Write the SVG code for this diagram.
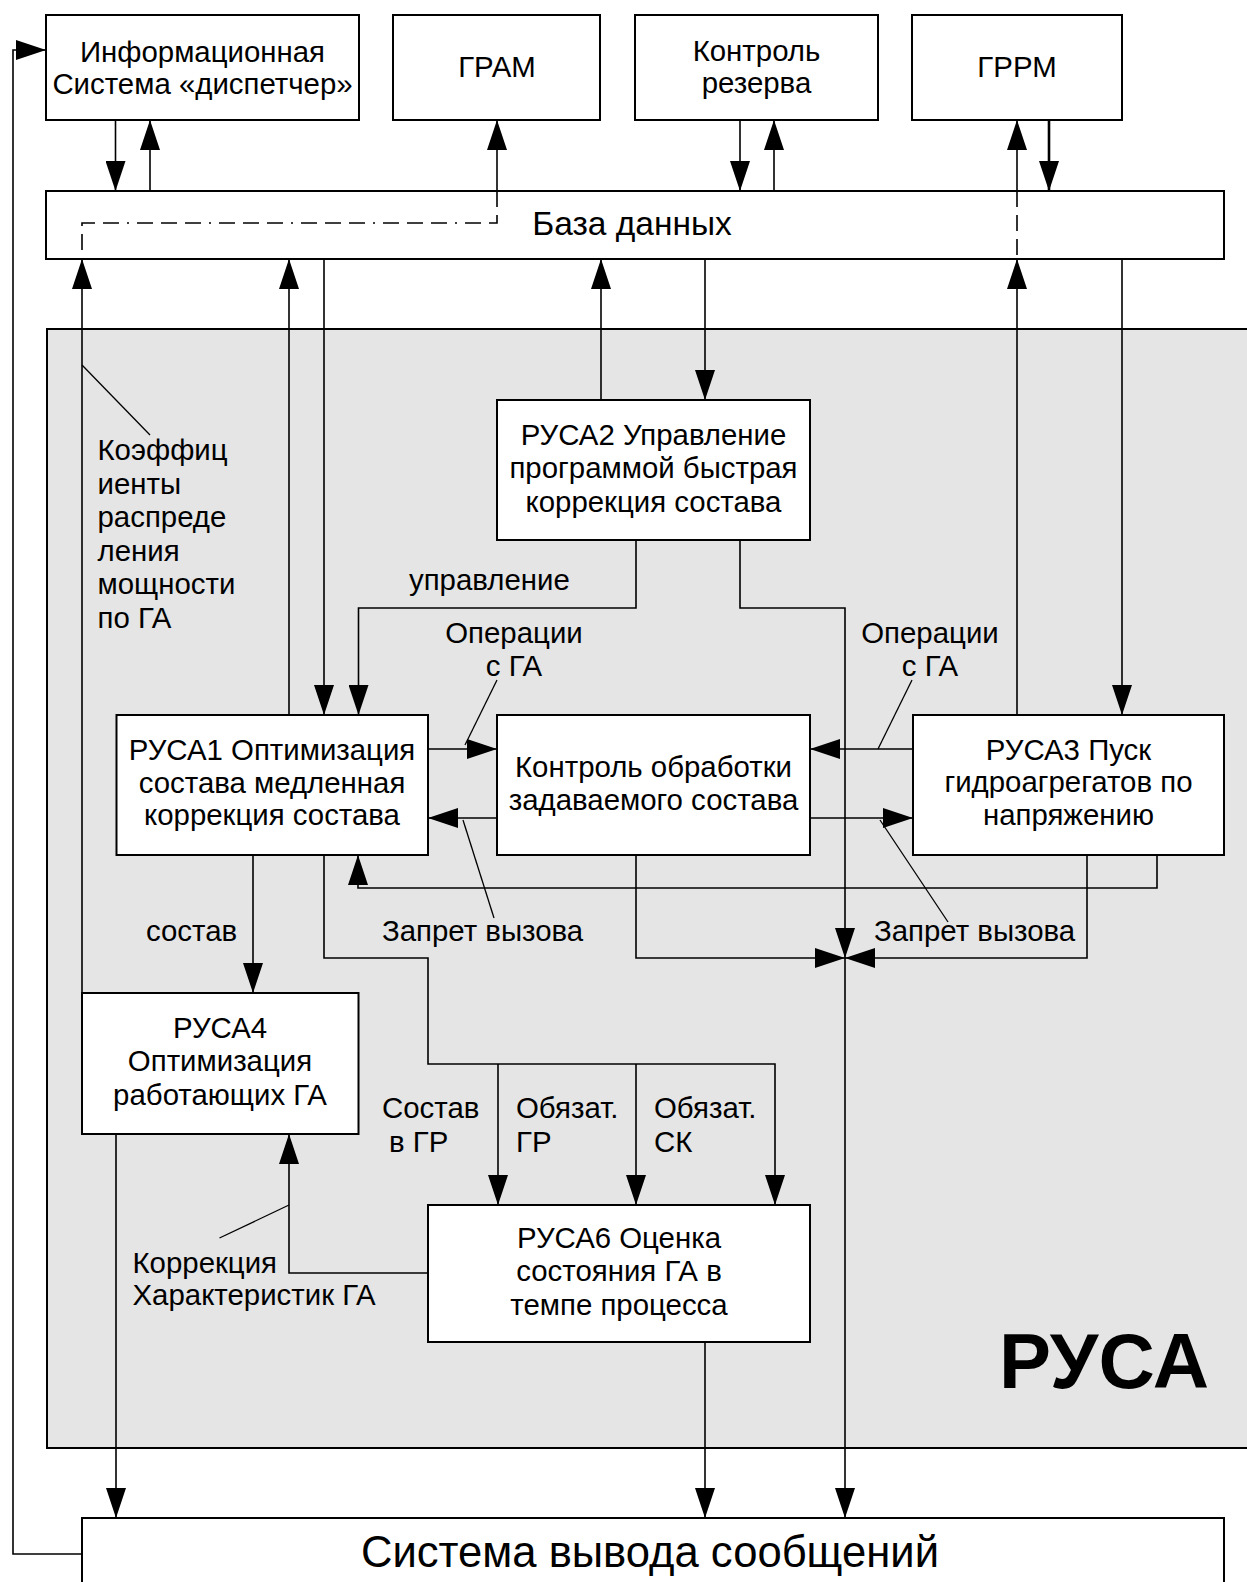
<svg xmlns="http://www.w3.org/2000/svg" width="1247" height="1582" viewBox="0 0 1247 1582">
<style>
.box{fill:#fff;stroke:#000;stroke-width:2}
.t{font-family:"Liberation Sans",Arial,sans-serif;font-size:29.4px;fill:#000}
.c{text-anchor:middle}
.ln{fill:none;stroke:#000;stroke-width:1.6}
.ld{fill:none;stroke:#000;stroke-width:1.3}
.dd{fill:none;stroke:#000;stroke-width:1.6;stroke-dasharray:16 8 16 8 16 8 2 8}
</style>
<defs>
<marker id="ah" viewBox="0 0 30 20" refX="30" refY="10" markerWidth="30" markerHeight="20" markerUnits="userSpaceOnUse" orient="auto"><path d="M0,0 L30,10 L0,20 z" fill="#000"/></marker>
</defs>
<rect width="1247" height="1582" fill="#fff"/>

<g id="rusa-region">
<rect x="47" y="329" width="1215" height="1119" fill="#e5e5e5" stroke="#000" stroke-width="2"/>
<text class="t c" x="1104" y="1388" style="font-size:78px;font-weight:bold">РУСА</text>
</g>

<g id="info-system">
<rect class="box" x="46" y="15" width="313" height="105"/>
<text class="t c" x="202.5" y="62">Информационная</text>
<text class="t c" x="202.5" y="94">Система «диспетчер»</text>
</g>
<g id="gram">
<rect class="box" x="393" y="15" width="207" height="105"/>
<text class="t c" x="497" y="77">ГРАМ</text>
</g>
<g id="reserve-control">
<rect class="box" x="635" y="15" width="243" height="105"/>
<text class="t c" x="756.5" y="61">Контроль</text>
<text class="t c" x="756.5" y="93">резерва</text>
</g>
<g id="grrm">
<rect class="box" x="912" y="15" width="210" height="105"/>
<text class="t c" x="1017" y="77">ГРРМ</text>
</g>
<g id="database">
<rect class="box" x="46" y="191" width="1178" height="68"/>
<text class="t c" x="632" y="235" style="font-size:33.5px">База данных</text>
</g>
<g id="rusa2">
<rect class="box" x="497" y="400" width="313" height="140"/>
<text class="t c" x="653.5" y="445">РУСА2 Управление</text>
<text class="t c" x="653.5" y="478">программой быстрая</text>
<text class="t c" x="653.5" y="512">коррекция состава</text>
</g>
<g id="rusa1">
<rect class="box" x="116.5" y="715" width="311.5" height="140"/>
<text class="t c" x="272" y="760">РУСА1 Оптимизация</text>
<text class="t c" x="272" y="793">состава медленная</text>
<text class="t c" x="272" y="825">коррекция состава</text>
</g>
<g id="composition-control">
<rect class="box" x="497" y="715" width="313" height="140"/>
<text class="t c" x="653.5" y="777">Контроль обработки</text>
<text class="t c" x="653.5" y="810">задаваемого состава</text>
</g>
<g id="rusa3">
<rect class="box" x="913" y="715" width="311" height="140"/>
<text class="t c" x="1068.5" y="760">РУСА3 Пуск</text>
<text class="t c" x="1068.5" y="792">гидроагрегатов по</text>
<text class="t c" x="1068.5" y="825">напряжению</text>
</g>
<g id="rusa4">
<rect class="box" x="82" y="993" width="276.5" height="141"/>
<text class="t c" x="220" y="1038">РУСА4</text>
<text class="t c" x="220" y="1071">Оптимизация</text>
<text class="t c" x="220" y="1105">работающих ГА</text>
</g>
<g id="rusa6">
<rect class="box" x="428" y="1205" width="382" height="137"/>
<text class="t c" x="619" y="1248">РУСА6 Оценка</text>
<text class="t c" x="619" y="1281">состояния ГА в</text>
<text class="t c" x="619" y="1315">темпе процесса</text>
</g>
<g id="message-output">
<rect class="box" x="82" y="1518" width="1142" height="80"/>
<text class="t c" x="650" y="1567" style="font-size:43.6px">Система вывода сообщений</text>
</g>

<g id="connectors">
<line class="ln" x1="115.5" y1="120" x2="115.5" y2="191" marker-end="url(#ah)"/>
<line class="ln" x1="150" y1="191" x2="150" y2="120" marker-end="url(#ah)"/>
<line class="ln" x1="497" y1="191" x2="497" y2="120" marker-end="url(#ah)"/>
<line class="ln" x1="740" y1="120" x2="740" y2="191" marker-end="url(#ah)"/>
<line class="ln" x1="774" y1="191" x2="774" y2="120" marker-end="url(#ah)"/>
<line class="ln" x1="1017" y1="191" x2="1017" y2="120" marker-end="url(#ah)"/>
<line class="ln" x1="1049" y1="120" x2="1049" y2="191" marker-end="url(#ah)" style="stroke-width:2.6"/>
<path class="dd" d="M497,191 V223 H82 V259"/>
<path class="dd" d="M1017,191 V259"/>
<line class="ln" x1="82" y1="993" x2="82" y2="259" marker-end="url(#ah)"/>
<line class="ld" x1="82" y1="365" x2="150" y2="435"/>
<line class="ln" x1="289" y1="715" x2="289" y2="259" marker-end="url(#ah)"/>
<line class="ln" x1="324" y1="259" x2="324" y2="715" marker-end="url(#ah)"/>
<line class="ln" x1="601" y1="400" x2="601" y2="259" marker-end="url(#ah)"/>
<line class="ln" x1="705" y1="259" x2="705" y2="400" marker-end="url(#ah)"/>
<line class="ln" x1="1017" y1="715" x2="1017" y2="259" marker-end="url(#ah)"/>
<line class="ln" x1="1122" y1="259" x2="1122" y2="715" marker-end="url(#ah)"/>
<path class="ln" d="M636,540 V608 H358.5 V715" marker-end="url(#ah)"/>
<path class="ln" d="M740,540 V608 H845 V958" marker-end="url(#ah)"/>
<line class="ln" x1="845" y1="958" x2="845" y2="1518" marker-end="url(#ah)"/>
<line class="ln" x1="428" y1="749" x2="497" y2="749" marker-end="url(#ah)"/>
<line class="ln" x1="497" y1="818" x2="428" y2="818" marker-end="url(#ah)"/>
<line class="ln" x1="913" y1="749" x2="810" y2="749" marker-end="url(#ah)"/>
<line class="ln" x1="810" y1="818" x2="913" y2="818" marker-end="url(#ah)"/>
<line class="ld" x1="497" y1="680" x2="465" y2="745"/>
<line class="ld" x1="912" y1="680" x2="878" y2="749"/>
<line class="ld" x1="494" y1="918" x2="463" y2="820"/>
<line class="ld" x1="948" y1="922" x2="880" y2="820"/>
<path class="ln" d="M1157,855 V888 H358 V855" marker-end="url(#ah)"/>
<path class="ln" d="M636,855 V958 H845" marker-end="url(#ah)"/>
<path class="ln" d="M1087,855 V958 H845" marker-end="url(#ah)"/>
<line class="ln" x1="253" y1="855" x2="253" y2="993" marker-end="url(#ah)"/>
<path class="ln" d="M324,855 V958 H428 V1064 H775 V1205" marker-end="url(#ah)"/>
<line class="ln" x1="498" y1="1064" x2="498" y2="1205" marker-end="url(#ah)"/>
<line class="ln" x1="636" y1="1064" x2="636" y2="1205" marker-end="url(#ah)"/>
<line class="ln" x1="116" y1="1134" x2="116" y2="1518" marker-end="url(#ah)"/>
<path class="ln" d="M428,1273 H289 V1134" marker-end="url(#ah)"/>
<line class="ld" x1="289" y1="1205" x2="219.5" y2="1238"/>
<line class="ln" x1="705" y1="1342" x2="705" y2="1518" marker-end="url(#ah)"/>
<path class="ln" d="M82,1554 H13 V50 H46" marker-end="url(#ah)"/>
</g>

<g id="labels">
<text class="t" x="97.5" y="460">Коэффиц</text>
<text class="t" x="97.5" y="493.5">иенты</text>
<text class="t" x="97.5" y="527">распреде</text>
<text class="t" x="97.5" y="560.5">ления</text>
<text class="t" x="97.5" y="594">мощности</text>
<text class="t" x="97.5" y="627.5">по ГА</text>
<text class="t" x="409" y="590">управление</text>
<text class="t c" x="514" y="643">Операции</text>
<text class="t c" x="514" y="676">с ГА</text>
<text class="t c" x="930" y="643">Операции</text>
<text class="t c" x="930" y="676">с ГА</text>
<text class="t" x="146" y="941">состав</text>
<text class="t" x="382" y="941">Запрет вызова</text>
<text class="t" x="874" y="941">Запрет вызова</text>
<text class="t" x="382" y="1118">Состав</text>
<text class="t" x="389" y="1152">в ГР</text>
<text class="t" x="516" y="1118">Обязат.</text>
<text class="t" x="516" y="1152">ГР</text>
<text class="t" x="654" y="1118">Обязат.</text>
<text class="t" x="654" y="1152">СК</text>
<text class="t" x="132.5" y="1273">Коррекция</text>
<text class="t" x="132.5" y="1305">Характеристик ГА</text>
</g>
</svg>
